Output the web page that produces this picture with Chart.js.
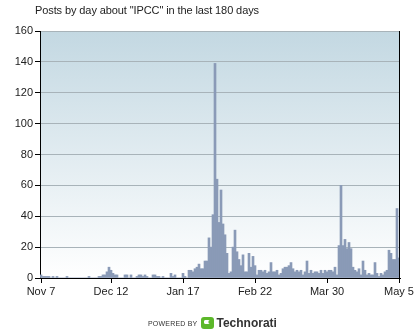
<!DOCTYPE html>
<html>
<head>
<meta charset="utf-8">
<script src="https://cdn.jsdelivr.net/npm/chart.js@4"></script>
<style>
  html, body { margin: 0; padding: 0; background: #fff; }
  #wrap { position: relative; width: 420px; height: 329px; overflow: hidden; font-family: "Liberation Sans", Arial, sans-serif; }
  #title { position: absolute; left: 35px; top: 4px; font-size: 11px; color: #222; letter-spacing: -0.1px; }
  #footer { position: absolute; left: 148px; top: 316px; height: 14px; display: flex; align-items: center; }
  #footer .pb { font-size: 7px; color: #333; letter-spacing: 0.2px; margin-right: 4px; }
  #footer .logo { width: 13px; height: 12px; background: #5cb82a; border-radius: 3px; position: relative; margin-right: 2px; }
  #footer .logo::after { content: ''; position: absolute; left: 3px; top: 3px; width: 6px; height: 4px; border: 2px solid #fff; border-right-color: transparent; border-radius: 3px; box-sizing: border-box; }
  #footer .tn { font-size: 12px; font-weight: bold; color: #333; }
  canvas { position: absolute; left: 0; top: 0; }
</style>
</head>
<body>
<div id="wrap">
  <canvas id="chart" width="420" height="329"></canvas>
  <div id="title">Posts by day about "IPCC" in the last 180 days</div>
  <div id="footer"><span class="pb">POWERED BY</span><span class="logo"></span><span class="tn">Technorati</span></div>
</div>
<script>
// posts per day, Nov 7 .. May 5 (180 days)
const posts = [
  2, 1, 1, 1, 1, 0, 1, 0, 1, 0,
  0, 0, 0, 1, 0, 0, 0, 0, 0, 0,
  0, 0, 0, 0, 1, 0, 0, 0, 0, 1,
  1, 2, 2, 4, 7, 5, 3, 2, 2, 0,
  0, 0, 2, 2, 0, 2, 0, 0, 1, 2,
  2, 1, 2, 1, 0, 0, 2, 2, 1, 1,
  0, 1, 0, 0, 0, 3, 1, 2, 0, 0,
  0, 3, 1, 0, 5, 5, 4, 6, 7, 9,
  6, 6, 11, 11, 26, 20, 41, 139, 64, 36,
  57, 35, 28, 16, 3, 4, 20, 31, 17, 12,
  8, 15, 4, 4, 16, 7, 14, 8, 2, 5,
  5, 4, 5, 3, 4, 10, 4, 4, 5, 2,
  3, 6, 7, 7, 8, 10, 6, 4, 5, 4,
  5, 2, 4, 11, 3, 5, 3, 4, 4, 3,
  5, 3, 5, 4, 5, 5, 4, 7, 2, 21,
  60, 21, 25, 19, 23, 19, 7, 5, 4, 6,
  2, 11, 5, 2, 3, 2, 2, 10, 3, 1,
  3, 2, 4, 5, 18, 16, 12, 12, 45, 13
];

// x axis labels shown
const tickDays = [0, 35, 71, 107, 143, 179];
const tickLabels = ['Nov 7', 'Dec 12', 'Jan 17', 'Feb 22', 'Mar 30', 'May 5'];

const days = posts.map((v, i) => i);

// plot background gradient + right border
const plotFrame = {
    id: 'plotFrame',
    beforeDraw(chart) {
        const { ctx, chartArea: a } = chart;
        const g = ctx.createLinearGradient(0, a.top, 0, a.bottom);
        g.addColorStop(0, '#c3d8e2');
        g.addColorStop(1, '#ffffff');
        ctx.save();
        ctx.fillStyle = g;
        ctx.fillRect(a.left, a.top, a.right - a.left, a.bottom - a.top);
        ctx.restore();
    },
    afterDraw(chart) {
        const { ctx, chartArea: a } = chart;
        ctx.save();
        ctx.strokeStyle = '#000';
        ctx.lineWidth = 1;
        ctx.beginPath();
        ctx.moveTo(a.right - 0.5, a.top);
        ctx.lineTo(a.right - 0.5, a.bottom);
        ctx.stroke();
        ctx.restore();
    }
};

const font = { family: '"Liberation Sans", Arial, sans-serif', size: 11 };

new Chart(document.getElementById('chart'), {
    type: 'bar',
    data: {
        labels: days,
        datasets: [{
            data: posts,
            backgroundColor: '#8a9ab7',
            borderWidth: 0,
            barPercentage: 1,
            categoryPercentage: 1
        }]
    },
    options: {
        responsive: false,
        animation: false,
        layout: { padding: { left: 0, right: 20, top: 31, bottom: 29 } },
        plugins: { legend: { display: false }, tooltip: { enabled: false } },
        scales: {
            x: {
                grid: { offset: false, drawOnChartArea: false, color: '#000', tickLength: 5 },
                border: { color: '#000', width: 1 },
                ticks: {
                    autoSkip: false,
                    maxRotation: 0,
                    padding: 2,
                    color: '#222',
                    font: font,
                    callback: (v, i) => {
                        const k = tickDays.indexOf(i);
                        return k >= 0 ? tickLabels[k] : null;
                    }
                },
                afterFit: s => { s.height = 22; }
            },
            y: {
                min: 0,
                max: 160,
                grid: { color: '#a8b3b9', tickColor: '#000', tickLength: 5 },
                border: { color: '#000', width: 1 },
                ticks: { stepSize: 20, padding: 2, color: '#222', font: font },
                afterFit: s => { s.width = 40; }
            }
        }
    },
    plugins: [plotFrame]
});
</script>
</body>
</html>
